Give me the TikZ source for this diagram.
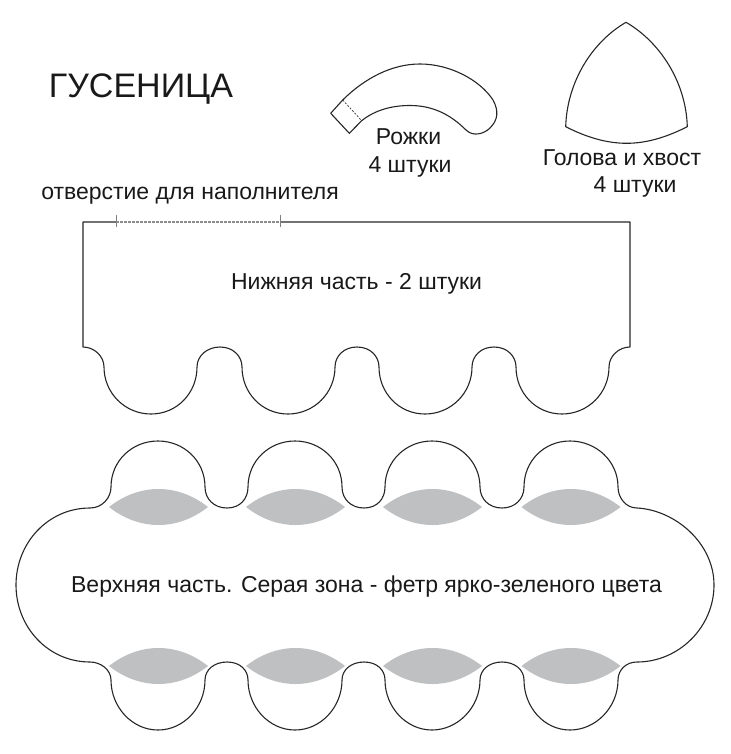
\documentclass[tikz,border=0pt]{standalone}
\usepackage{fontspec}
\setmainfont{Liberation Sans}
\tikzset{
  outline/.style={draw=black!85,line width=1.1pt,line join=round},
  lens/.style={fill=lensgrey,draw=none},
  label/.style={inner sep=0pt,anchor=base,text=black!90,font=\fontsize{23}{27}\selectfont},
  opening/.style={draw=black!45,line width=1.1pt,dash pattern=on 3pt off 1pt},
  tick/.style={draw=black!50,line width=0.7pt}
}
\definecolor{lensgrey}{HTML}{BFC0C2}
\begin{document}
\begin{tikzpicture}[x=1pt,y=-1pt]
\useasboundingbox (0,0) rectangle (730,754);
% texts
\node[label,font=\fontsize{34}{38}\selectfont] (title) at (141,98) {ГУСЕНИЦА};
\node[label] (hornA) at (408.5,145) {Рожки};
\node[label] (hornB) at (410,172) {4 штуки};
\node[label] (headA) at (622,166) {Голова и хвост};
\node[label] (headB) at (635,192) {4 штуки};
\node[label] (hole) at (190,199) {отверстие для наполнителя};
\node[label] (lower) at (356.5,289) {Нижняя часть - 2 штуки};
\node[label] (upper) at (366.5,592) {Верхняя часть. Серая зона - фетр ярко-зеленого цвета};
% horn
\draw[outline] (330.7,113.3) -- (342.7,100)
  .. controls (365,78) and (392,64) .. (420,64)
  .. controls (450,64) and (480,80) .. (493,100)
  .. controls (499,111) and (498,120) .. (490,128)
  .. controls (484,134) and (473,137) .. (466,130)
  .. controls (450,114) and (432,105.5) .. (410,105.5)
  .. controls (392,105.5) and (375,110) .. (361.7,120.7)
  -- (349.3,133.3) -- cycle;
\draw[black!80,line width=0.7pt,dash pattern=on 2pt off 1.5pt] (342.7,100) -- (361.7,120.7);
% head
\draw[outline] (626,22.3)
  .. controls (660,42) and (686,82) .. (687.3,126.7)
  .. controls (667,137) and (647,143.3) .. (626.7,143.3)
  .. controls (606,143.3) and (586,137) .. (565.7,126.7)
  .. controls (567,82) and (592,42) .. (626,22.3);
% lower part
\draw[outline] (280,222) -- (630,222) -- (630,347)
  .. controls (619,347) and (609,356) .. (609,367)
  .. controls (609,393) and (588,414) .. (562,414)
  .. controls (536,414) and (516,393) .. (516,367)
  .. controls (516,356) and (507,347) .. (494,347)
  .. controls (481,347) and (472,356) .. (472,367)
  .. controls (472,393) and (451,414) .. (425,414)
  .. controls (399,414) and (379,393) .. (379,367)
  .. controls (379,356) and (370,347) .. (357,347)
  .. controls (344,347) and (335,356) .. (335,367)
  .. controls (335,393) and (314,414) .. (288,414)
  .. controls (262,414) and (242,393) .. (242,367)
  .. controls (242,356) and (233,347) .. (220,347)
  .. controls (207,347) and (197,356) .. (197,367)
  .. controls (197,393) and (177,414) .. (151,414)
  .. controls (125,414) and (104,393) .. (104,367)
  .. controls (104,356) and (94,347) .. (83,347)
  -- (83,222) -- (116,222);
\draw[opening] (116,222) -- (280,222);
\draw[tick] (116,215) -- (116,227);
\draw[tick] (280,215) -- (280,227);
% lenses
\foreach \c in {158.5,295.5,432.5,571}{
  \fill[lens] ({\c-49.5},507) .. controls ({\c-19},483) and ({\c+19},483) .. ({\c+49.5},507)
     .. controls ({\c+19},531) and ({\c-19},531) .. ({\c-49.5},507) -- cycle;
  \fill[lens] ({\c-49.5},666) .. controls ({\c-19},642) and ({\c+19},642) .. ({\c+49.5},666)
     .. controls ({\c+19},690) and ({\c-19},690) .. ({\c-49.5},666) -- cycle;
}
% upper part
\draw[outline] (90,508)
  .. controls (102,508) and (111,498) .. (111,487)
  .. controls (111,461) and (132,441) .. (158,441)
  .. controls (184,441) and (205,461) .. (205,487)
  .. controls (205,499) and (214,508) .. (227,508)
  .. controls (240,508) and (248,499) .. (248,487)
  .. controls (248,461) and (269,441) .. (295,441)
  .. controls (321,441) and (342,461) .. (342,487)
  .. controls (342,499) and (351,508) .. (364,508)
  .. controls (377,508) and (385,499) .. (385,487)
  .. controls (385,461) and (406,441) .. (432,441)
  .. controls (458,441) and (480,461) .. (480,487)
  .. controls (480,499) and (489,508) .. (502,508)
  .. controls (515,508) and (524,499) .. (524,487)
  .. controls (524,461) and (544,441) .. (570,441)
  .. controls (596,441) and (618,461) .. (618,487)
  .. controls (618,498) and (626,508) .. (637,508)
  .. controls (675,510) and (714,543) .. (714,585)
  .. controls (714,627) and (679,662) .. (637,662)
  .. controls (626,662) and (618,670) .. (618,680)
  .. controls (618,707) and (596,730) .. (570,730)
  .. controls (544,730) and (524,707) .. (524,680)
  .. controls (524,670) and (515,662) .. (502,662)
  .. controls (489,662) and (480,670) .. (480,680)
  .. controls (480,707) and (458,730) .. (432,730)
  .. controls (406,730) and (385,707) .. (385,680)
  .. controls (385,670) and (377,662) .. (364,662)
  .. controls (351,662) and (342,670) .. (342,680)
  .. controls (342,707) and (321,730) .. (295,730)
  .. controls (269,730) and (248,707) .. (248,680)
  .. controls (248,670) and (240,662) .. (227,662)
  .. controls (214,662) and (205,670) .. (205,680)
  .. controls (205,707) and (184,730) .. (158,730)
  .. controls (132,730) and (111,707) .. (111,680)
  .. controls (111,670) and (101,662) .. (90,662)
  .. controls (48,662) and (16,627) .. (16,585)
  .. controls (16,543) and (48,508) .. (90,508) -- cycle;
\end{tikzpicture}
\end{document}
